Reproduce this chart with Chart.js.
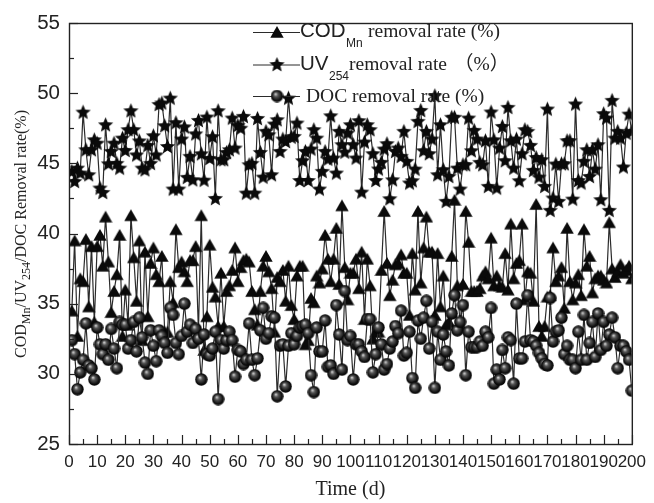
<!DOCTYPE html>
<html>
<head>
<meta charset="utf-8">
<script src="https://cdn.jsdelivr.net/npm/chart.js@4"></script>
<style>
    html, body { margin: 0; padding: 0; background: #fff; }
    #wrap { position: relative; width: 654px; height: 503px; overflow: hidden; color: #222; }
    canvas { display: block; }
    .txt { position: absolute; white-space: pre; line-height: 1; }
    .serif { font-family: "Liberation Serif", serif; font-size: 19.5px; }
    .sans { font-family: "Liberation Sans", sans-serif; }
    #ylabel {
        position: absolute; left: 29px; top: 358px; white-space: pre; line-height: 1;
        font-family: "Liberation Serif", serif; font-size: 16px;
        transform-origin: 0 0; transform: rotate(-90deg) translateY(-16px);
    }
    #ylabel .s { font-size: 12px; position: relative; top: 4px; }
</style>
</head>
<body>
<div id="wrap">
    <canvas id="chart" width="654" height="503"></canvas>

    <div class="txt sans" style="left:300px;top:20px;font-size:20.5px">COD</div>
    <div class="txt sans" style="left:346px;top:37px;font-size:12px">Mn</div>
    <div class="txt serif" style="left:368px;top:21px">removal rate (%)</div>

    <div class="txt sans" style="left:300px;top:53px;font-size:20.5px">UV</div>
    <div class="txt sans" style="left:329px;top:70px;font-size:12px">254</div>
    <div class="txt serif" style="left:349px;top:54px">removal rate</div>
    <div class="txt serif" style="left:454px;top:54px;font-family:'Liberation Serif','Noto Sans CJK SC',serif">（%）</div>

    <div class="txt serif" style="left:306px;top:86px">DOC removal rate (%)</div>

    <div id="ylabel">COD<span class="s">Mn</span>/UV<span class="s">254</span>/DOC Removal rate(%)</div>
</div>

<script>
const codRate = [
    34.5, 39.5, 32.7, 36.8, 36.6, 39.6, 34.8, 39.1, 33.7, 39.1,
    39.9, 37.7, 41.2, 38.0, 34.4, 35.9, 37.1, 39.9, 32.7, 36.0,
    33.5, 41.3, 38.3, 35.2, 39.5, 32.4, 38.7, 34.1, 37.9, 39.0,
    37.1, 36.6, 38.4, 33.0, 33.0, 36.6, 35.1, 40.3, 37.6, 38.0,
    37.3, 36.6, 38.1, 38.1, 39.1, 33.0, 41.3, 31.7, 34.1, 39.2,
    36.2, 35.5, 33.4, 37.2, 33.4, 35.9, 36.3, 37.4, 39.0, 36.6,
    37.6, 38.1, 38.2, 38.0, 35.9, 34.6, 33.5, 35.9, 37.7, 38.4,
    37.3, 36.1, 33.0, 36.9, 36.6, 37.4, 35.2, 37.7, 34.9, 33.9,
    37.0, 37.7, 37.7, 32.1, 32.4, 35.4, 35.1, 37.0, 36.5, 37.5,
    39.9, 38.2, 36.6, 38.2, 40.4, 36.4, 42.0, 37.6, 35.3, 37.2,
    37.2, 38.2, 36.1, 38.7, 33.9, 38.2, 36.3, 32.5, 33.0, 33.0,
    37.4, 41.6, 37.9, 35.6, 36.7, 37.8, 37.9, 38.5, 37.2, 37.2,
    34.2, 38.6, 36.0, 41.6, 36.5, 39.0, 41.2, 38.7, 38.7, 34.2,
    38.6, 34.8, 37.0, 33.5, 33.7, 38.4, 42.4, 36.3, 33.5, 36.4,
    41.6, 39.4, 35.9, 35.9, 35.9, 36.1, 37.0, 37.3, 36.8, 39.7,
    36.3, 37.0, 36.3, 36.2, 38.6, 36.0, 40.7, 36.8, 37.9, 38.1,
    40.7, 35.3, 37.3, 37.2, 35.2, 42.1, 33.4, 32.7, 33.4, 35.5,
    35.6, 39.0, 36.6, 37.0, 37.6, 34.7, 40.4, 36.6, 35.3, 36.5,
    37.1, 35.6, 40.3, 37.7, 38.4, 35.8, 36.8, 37.0, 37.0, 36.7,
    36.5, 40.8, 37.5, 36.9, 37.3, 37.8, 37.2, 37.4, 37.7, 36.8,
];

const uvRate = [
    44.42, 43.71, 44.66, 44.31, 48.65, 45.97, 44.19, 45.97, 46.68, 46.44,
    43.24, 42.93, 47.75, 44.97, 45.85, 46.44, 45.00, 44.66, 46.80, 45.92,
    47.40, 48.75, 47.40, 45.60, 46.60, 44.66, 44.54, 46.28, 45.00, 46.97,
    45.60, 49.20, 49.30, 47.68, 46.20, 49.65, 43.17, 47.90, 43.17, 46.73,
    47.60, 44.00, 45.50, 43.83, 47.10, 48.06, 45.68, 43.80, 48.30, 45.35,
    46.90, 42.50, 48.75, 45.26, 45.26, 45.78, 45.97, 48.23, 46.09, 47.70,
    47.50, 48.35, 42.88, 44.90, 45.00, 42.88, 48.20, 45.78, 44.02, 47.28,
    47.04, 44.19, 47.80, 48.11, 45.85, 46.73, 46.56, 49.65, 46.87, 46.92,
    47.87, 43.78, 45.19, 45.85, 43.78, 46.02, 47.40, 46.80, 43.17, 44.43,
    45.85, 45.30, 48.39, 45.38, 44.31, 47.28, 46.33, 45.80, 47.16, 47.75,
    46.33, 45.38, 48.04, 42.95, 46.52, 47.75, 47.40, 45.69, 43.78, 44.60,
    45.07, 46.02, 46.40, 42.48, 43.83, 45.85, 46.09, 45.50, 47.28, 45.14,
    43.60, 43.76, 44.59, 47.99, 48.77, 45.90, 47.28, 45.69, 46.73, 49.82,
    44.19, 47.75, 44.55, 42.29, 44.07, 48.28, 48.28, 44.66, 43.17, 44.90,
    44.90, 48.23, 45.90, 47.35, 46.73, 45.07, 44.90, 46.61, 43.36, 48.66,
    46.68, 43.24, 46.09, 47.63, 45.19, 48.99, 46.61, 44.66, 46.73, 43.76,
    45.69, 47.40, 47.28, 46.28, 44.50, 45.42, 44.02, 45.26, 43.36, 48.87,
    41.65, 42.53, 44.95, 42.29, 44.97, 44.97, 46.61, 46.61, 42.45, 49.23,
    43.78, 43.60, 45.14, 45.97, 44.07, 45.97, 44.59, 46.33, 42.41, 48.54,
    48.23, 41.65, 49.49, 46.80, 47.28, 46.80, 44.74, 47.16, 48.51, 47.28,
];

const docRate = [
    32.4, 31.4, 28.9, 30.1, 31.0, 33.6, 30.6, 30.4, 29.6, 33.3,
    32.1, 31.4, 32.1, 31.0, 33.2, 31.8, 30.4, 33.7, 33.5, 33.5,
    31.8, 32.4, 33.7, 31.6, 34.0, 32.6, 30.8, 30.0, 33.1, 32.0,
    30.9, 33.1, 32.7, 32.2, 31.5, 34.7, 34.2, 32.2, 31.4, 32.7,
    35.0, 33.0, 33.5, 32.2, 33.2, 32.5, 29.6, 32.8, 31.4, 31.3,
    31.8, 33.0, 28.2, 32.4, 31.8, 32.4, 33.0, 32.4, 29.8, 31.7,
    31.6, 30.7, 31.0, 33.6, 31.0, 29.9, 31.1, 33.1, 34.7, 32.5,
    32.9, 34.1, 34.0, 28.4, 32.0, 32.1, 29.1, 32.0, 32.9, 32.1,
    32.7, 33.3, 33.4, 33.5, 32.9, 29.9, 28.7, 33.3, 31.6, 31.6,
    33.8, 30.5, 30.6, 30.0, 34.9, 32.8, 30.3, 35.9, 32.4, 32.7,
    29.6, 32.1, 32.1, 31.6, 31.2, 33.9, 33.9, 30.1, 31.4, 33.3,
    32.1, 30.3, 30.7, 31.8, 32.3, 33.4, 32.9, 34.5, 31.3, 31.5,
    33.0, 29.7, 29.0, 33.8, 32.5, 34.0, 35.2, 31.8, 33.7, 29.0,
    33.0, 31.0, 32.8, 31.6, 30.6, 34.3, 35.6, 33.1, 33.7, 34.9,
    29.9, 33.0, 31.9, 31.9, 31.9, 32.3, 32.0, 33.0, 32.6, 34.7,
    29.3, 30.3, 29.6, 31.7, 30.4, 32.6, 32.4, 29.3, 35.0, 31.1,
    31.1, 32.3, 35.6, 32.4, 32.3, 32.0, 31.5, 31.1, 30.7, 30.6,
    35.4, 32.3, 33.0, 33.1, 34.0, 31.4, 32.0, 31.0, 31.0, 30.4,
    33.0, 31.0, 34.2, 31.0, 32.2, 33.7, 31.2, 34.3, 31.7, 33.7,
    32.0, 32.8, 34.0, 32.6, 30.4, 32.0, 32.0, 31.6, 31.0, 28.8,
];

const days = codRate.map((_value, index) => index + 1);
const toPoints = (values) => values.map((value, index) => ({ x: days[index], y: value }));

const xStep = 5;
const yStep = 2.5;

const inkColor = '#0a0a0a';
const lineColor = '#2b2b2b';
const frameColor = '#222';

const newMarker = (size, paint) => {
    const canvas = document.createElement('canvas');
    canvas.width = size;
    canvas.height = size;
    paint(canvas.getContext('2d'), size);
    return canvas;
};

const triangleMarker = newMarker(14, (ctx) => {
    ctx.fillStyle = inkColor;
    ctx.beginPath();
    ctx.moveTo(7, 1);
    ctx.lineTo(13.7, 12.8);
    ctx.lineTo(0.3, 12.8);
    ctx.closePath();
    ctx.fill();
});

const starMarker = newMarker(17, (ctx, size) => {
    const c = size / 2;
    ctx.fillStyle = inkColor;
    ctx.beginPath();
    for (let i = 0; i < 10; i += 1) {
        const radius = i % 2 === 0 ? 8 : 3.6;
        const angle = -Math.PI / 2 + (i * Math.PI) / 5;
        ctx.lineTo(c + radius * Math.cos(angle), c + 0.5 + radius * Math.sin(angle));
    }
    ctx.closePath();
    ctx.fill();
});

const sphereMarker = newMarker(13, (ctx, size) => {
    const c = size / 2;
    const shade = ctx.createRadialGradient(c - 1.5, c - 2, 0.3, c, c, c);
    shade.addColorStop(0, '#cfcfcf');
    shade.addColorStop(0.3, '#555');
    shade.addColorStop(0.75, '#111');
    shade.addColorStop(1, '#000');
    ctx.fillStyle = shade;
    ctx.beginPath();
    ctx.arc(c, c, c - 0.3, 0, Math.PI * 2);
    ctx.fill();
});

const makeSeries = (label, values, marker, order) => ({
    label,
    data: toPoints(values),
    order,
    showLine: true,
    borderColor: lineColor,
    borderWidth: 1.2,
    tension: 0,
    pointStyle: marker,
    pointRadius: 7,
});

const legendRows = [
    { marker: triangleMarker, y: 32 },
    { marker: starMarker, y: 64.5 },
    { marker: sphereMarker, y: 96 },
];

// frame, inward ticks and legend symbols
const framePlugin = {
    id: 'frame',
    afterDraw(chart) {
        const { ctx, chartArea: area, scales } = chart;
        ctx.save();
        ctx.strokeStyle = frameColor;
        ctx.lineWidth = 1.4;
        ctx.strokeRect(area.left + 0.5, area.top + 0.5, area.width, area.height);

        ctx.lineWidth = 1.2;
        for (let value = scales.x.min; value <= scales.x.max; value += xStep) {
            const px = Math.round(scales.x.getPixelForValue(value)) + 0.5;
            ctx.beginPath();
            ctx.moveTo(px, area.bottom);
            ctx.lineTo(px, area.bottom - (value % 10 === 0 ? 9 : 5));
            ctx.stroke();
        }
        for (let value = scales.y.min; value <= scales.y.max; value += yStep) {
            const py = Math.round(scales.y.getPixelForValue(value)) + 0.5;
            ctx.beginPath();
            ctx.moveTo(area.left, py);
            ctx.lineTo(area.left + (value % 5 === 0 ? 9 : 5), py);
            ctx.stroke();
        }

        ctx.strokeStyle = lineColor;
        ctx.lineWidth = 1;
        legendRows.forEach((row) => {
            ctx.beginPath();
            ctx.moveTo(253, row.y + 0.5);
            ctx.lineTo(300, row.y + 0.5);
            ctx.stroke();
            const m = row.marker;
            ctx.drawImage(m, 277 - m.width / 2, row.y - m.height / 2);
        });
        ctx.restore();
    },
};

new Chart(document.getElementById('chart'), {
    type: 'scatter',
    data: {
        datasets: [
            makeSeries('COD removal rate (%)', codRate, triangleMarker, 3),
            makeSeries('UV254 removal rate (%)', uvRate, starMarker, 2),
            makeSeries('DOC removal rate (%)', docRate, sphereMarker, 1),
        ],
    },
    options: {
        responsive: false,
        animation: false,
        layout: { padding: { top: 23, right: 14, left: 0, bottom: 0 } },
        plugins: {
            legend: { display: false },
            tooltip: { enabled: false },
        },
        scales: {
            x: {
                type: 'linear',
                min: 0,
                max: 200,
                afterFit: (scale) => { scale.height = 59; },
                grid: { display: false, drawTicks: false },
                border: { display: false },
                ticks: {
                    stepSize: xStep,
                    autoSkip: false,
                    maxRotation: 0,
                    padding: 8,
                    color: '#222',
                    font: { family: '"Liberation Sans"', size: 17 },
                    callback: (value) => (value % 10 === 0 ? String(value) : ''),
                },
                title: {
                    display: true,
                    text: 'Time (d)',
                    color: '#222',
                    font: { family: '"Liberation Serif"', size: 20 },
                    padding: { top: 0, bottom: 1 },
                },
            },
            y: {
                min: 25,
                max: 55,
                afterFit: (scale) => { scale.width = 69; },
                grid: { display: false, drawTicks: false },
                border: { display: false },
                ticks: {
                    stepSize: yStep,
                    autoSkip: false,
                    padding: 9,
                    color: '#222',
                    font: { family: '"Liberation Sans"', size: 20.5 },
                    callback: (value) => (value % 5 === 0 ? String(value) : ''),
                },
            },
        },
    },
    plugins: [framePlugin],
});
</script>
</body>
</html>
